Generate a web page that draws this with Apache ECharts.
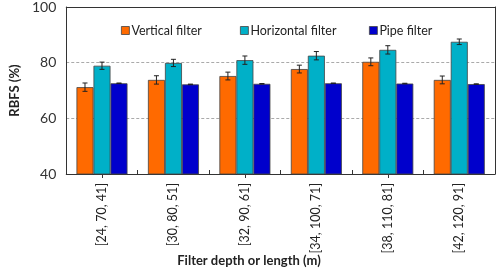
<!DOCTYPE html>
<html>
<head>
<meta charset="utf-8">
<script src="https://cdn.jsdelivr.net/npm/echarts@6/dist/echarts.min.js"></script>
<style>
  html, body { margin: 0; padding: 0; background: #fff; }
  #chart { width: 498px; height: 268px; }
</style>
</head>
<body>
<div id="chart"></div>
<script>
var categories = ['[24, 70, 41]', '[30, 80, 51]', '[32, 90, 61]', '[34, 100, 71]', '[38, 110, 81]', '[42, 120, 91]'];
var seriesNames = ['Vertical filter', 'Horizontal filter', 'Pipe filter'];
var vertical = [71.2, 73.8, 75.2, 77.7, 80.3, 73.8];
var horizontal = [78.9, 79.9, 80.9, 82.5, 84.6, 87.5];
var pipe = [72.6, 72.2, 72.4, 72.6, 72.5, 72.3];
var errVertical = [1.5, 1.5, 1.4, 1.4, 1.4, 1.4];
var errHorizontal = [1.3, 1.3, 1.5, 1.5, 1.5, 1.0];
var errPipe = [0.1, 0.1, 0.1, 0.1, 0.1, 0.1];
var yTicks = [40, 60, 80, 100];

var colors = ['#ff6a00', '#00b0c8', '#0000cc'];
var barW = 17;
var fontFam = 'Lato, "Noto Sans", sans-serif';

var myChart = echarts.init(document.getElementById('chart'));

function errorSeries(values, errs, offset) {
    return {
        type: 'custom',
        silent: true,
        z: 10,
        data: values.map(function (v, i) { return [i, v - errs[i], v + errs[i]]; }),
        renderItem: function (params, api) {
            var lo = api.coord([api.value(0), api.value(1)]);
            var hi = api.coord([api.value(0), api.value(2)]);
            var x = lo[0] + offset;
            var style = { stroke: '#222', lineWidth: 1 };
            return {
                type: 'group',
                children: [
                    { type: 'line', shape: { x1: x, y1: lo[1], x2: x, y2: hi[1] }, style: style },
                    { type: 'line', shape: { x1: x - 2.5, y1: lo[1], x2: x + 2.5, y2: lo[1] }, style: style },
                    { type: 'line', shape: { x1: x - 2.5, y1: hi[1], x2: x + 2.5, y2: hi[1] }, style: style }
                ]
            };
        }
    };
}

function barSeries(name, values, color) {
    return {
        name: name,
        type: 'bar',
        barWidth: barW,
        barGap: '0%',
        itemStyle: { color: color, borderColor: '#444', borderWidth: 0.8 },
        data: values
    };
}

var legendBase = {
    top: 19,
    itemWidth: 8,
    itemHeight: 8,
    itemGap: 0,
    icon: 'rect',
    itemStyle: { borderColor: '#444', borderWidth: 0.8 },
    textStyle: { fontFamily: fontFam, fontSize: 12.5, color: '#222', padding: [0, 0, 0, -3] }
};

option = {
    animation: false,
    title: {
        text: 'Filter depth or length (m)',
        left: 'center',
        top: 249,
        textStyle: { fontFamily: fontFam, fontSize: 13, fontWeight: 'bold', color: '#222' }
    },
    legend: [
        Object.assign({ left: 116, data: [seriesNames[0]] }, legendBase),
        Object.assign({ left: 235, data: [seriesNames[1]] }, legendBase),
        Object.assign({ left: 364, data: [seriesNames[2]] }, legendBase)
    ],
    grid: { left: 43, right: 3, top: 5, bottom: 94 },
    xAxis: [{
        type: 'category',
        data: categories,
        axisLine: { lineStyle: { color: '#333', width: 1 } },
        axisTick: { show: true, inside: true, length: 4, lineStyle: { color: '#333' } },
        axisLabel: {
            rotate: 90,
            margin: 9,
            fontFamily: fontFam,
            fontSize: 12.5,
            color: '#222'
        }
    }, {
        type: 'category',
        data: categories,
        position: 'bottom',
        axisLine: { show: false },
        axisTick: { show: true, alignWithLabel: true, length: 4, lineStyle: { color: '#333' } },
        axisLabel: { show: false }
    }, {
        // top border of the plot frame
        type: 'category',
        data: categories,
        position: 'top',
        axisLine: { show: true, lineStyle: { color: '#333', width: 1 } },
        axisTick: { show: false },
        axisLabel: { show: false }
    }],
    yAxis: [{
        type: 'value',
        min: yTicks[0],
        max: yTicks[yTicks.length - 1],
        interval: 20,
        name: 'RBFS (%)',
        nameLocation: 'middle',
        nameGap: 29,
        nameTextStyle: { fontFamily: fontFam, fontSize: 13, fontWeight: 'bold', color: '#222' },
        axisLine: { show: true, lineStyle: { color: '#333', width: 1 } },
        axisTick: { show: false },
        axisLabel: { margin: 10, fontFamily: fontFam, fontSize: 14, color: '#333' },
        splitLine: { show: true, lineStyle: { color: '#aaa', type: [3, 2], width: 1 } }
    }, {
        type: 'value',
        min: yTicks[0],
        max: yTicks[yTicks.length - 1],
        interval: 20,
        position: 'right',
        axisLine: { show: true, lineStyle: { color: '#333', width: 1 } },
        axisTick: { show: false },
        axisLabel: { show: false },
        splitLine: { show: false }
    }],
    series: [
        barSeries(seriesNames[0], vertical, colors[0]),
        barSeries(seriesNames[1], horizontal, colors[1]),
        barSeries(seriesNames[2], pipe, colors[2]),
        errorSeries(vertical, errVertical, -barW),
        errorSeries(horizontal, errHorizontal, 0),
        errorSeries(pipe, errPipe, barW)
    ]
};

myChart.setOption(option);
</script>
</body>
</html>
